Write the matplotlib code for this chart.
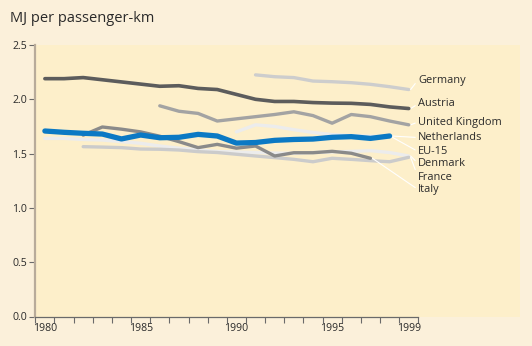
import numpy as np
import matplotlib
matplotlib.use("Agg")
import matplotlib.pyplot as plt
from matplotlib.ticker import FixedLocator, NullFormatter

plt.rcParams['font.family'] = ['Open Sans', 'DejaVu Sans']

years = list(range(1980, 2000))

austria = [2.19, 2.19, 2.20, 2.18, 2.16, 2.14, 2.12, 2.125, 2.10, 2.09,
           2.045, 2.00, 1.98, 1.98, 1.97, 1.965, 1.963, 1.953, 1.93, 1.915]
germany_years = list(range(1991, 2000))
germany = [2.225, 2.208, 2.20, 2.168, 2.162, 2.153, 2.138, 2.116, 2.09]
uk_years = list(range(1986, 2000))
uk = [1.94, 1.89, 1.87, 1.80, 1.82, 1.84, 1.86, 1.885, 1.85, 1.78,
      1.86, 1.84, 1.80, 1.765]
netherlands_years = list(range(1980, 1999))
netherlands = [1.708, 1.696, 1.687, 1.68, 1.635, 1.671, 1.646, 1.65, 1.677, 1.662,
               1.597, 1.602, 1.622, 1.63, 1.634, 1.65, 1.656, 1.64, 1.662]
eu15_years = list(range(1990, 1999))
eu15 = [1.70, 1.765, 1.75, 1.72, 1.695, 1.675, 1.665, 1.66, 1.655]
denmark = [1.64, 1.64, 1.63, 1.625, 1.61, 1.595, 1.57, 1.55, 1.535, 1.52,
           1.515, 1.51, 1.505, 1.503, 1.51, 1.515, 1.52, 1.527, 1.51, 1.478]
france_years = list(range(1982, 2000))
france = [1.564, 1.56, 1.555, 1.542, 1.54, 1.533, 1.518, 1.51, 1.494, 1.478,
          1.463, 1.447, 1.425, 1.457, 1.447, 1.435, 1.425, 1.466]
italy_years = list(range(1982, 1998))
italy = [1.67, 1.745, 1.725, 1.70, 1.66, 1.61, 1.555, 1.585, 1.55, 1.57,
         1.478, 1.508, 1.508, 1.521, 1.503, 1.457]

W, H = 532, 346
fig = plt.figure(figsize=(W / 100, H / 100), dpi=100, facecolor='#fbf0da')

# plot panel in pixel geometry
px_left, px_right, px_top, px_bottom = 35.3, 520, 45, 316.5
ax = fig.add_axes([px_left / W, (H - px_bottom) / H,
                   (px_right - px_left) / W, (px_bottom - px_top) / H])
ax.set_facecolor('#fdefca')
year_w = 19.15
ax.set_xlim(1979.5, 1979.5 + (px_right - px_left) / year_w)
ax.set_ylim(0, 2.5)

series = [
    (years, austria, '#5c5c5c', 2.6, 5),
    (germany_years, germany, '#cdcdcd', 2.4, 3),
    (uk_years, uk, '#a3a3a3', 2.4, 4),
    (years, denmark, '#ececec', 2.4, 2),
    (france_years, france, '#cbcbcb', 2.4, 3),
    (eu15_years, eu15, '#ececec', 2.4, 3),
    (italy_years, italy, '#8a8a8a', 2.4, 4),
    (netherlands_years, netherlands, '#0b79c4', 3.8, 6),
]
for xs, ys, c, lw, z in series:
    ax.plot(xs, ys, color=c, lw=lw, zorder=z, solid_capstyle='round',
            solid_joinstyle='round')

for s in ('top', 'right'):
    ax.spines[s].set_visible(False)
ax.spines['left'].set_color('#b8ab9a')
ax.spines['left'].set_linewidth(1.6)
ax.spines['bottom'].set_color('#6a6a6a')
ax.spines['bottom'].set_linewidth(0.9)
ax.spines['bottom'].set_bounds(1979.5, 1999.5)

ax.set_yticks([0, 0.5, 1.0, 1.5, 2.0, 2.5])
ax.set_yticklabels(['0.0', '0.5', '1.0', '1.5', '2.0', '2.5'])
ax.tick_params(axis='y', length=4, width=0.8, color='#6a6a6a', pad=2,
               labelsize=7.6, labelcolor='#2a2a2a')

# year boundaries carry the tick marks, labels sit between them
ax.xaxis.set_major_locator(FixedLocator(np.arange(1979.5, 2000, 1.0)))
ax.xaxis.set_major_formatter(NullFormatter())
label_years = [1980, 1985, 1990, 1995, 1999]
ax.xaxis.set_minor_locator(FixedLocator(label_years))
ax.set_xticklabels([str(y) for y in label_years], minor=True)
ax.tick_params(axis='x', which='major', length=4, width=0.8, color='#6a6a6a')
ax.tick_params(axis='x', which='minor', length=0, pad=5, labelsize=7.6,
               labelcolor='#2a2a2a')

fig.text(10 / W, 1 - 18 / H, 'MJ per passenger-km', fontsize=10.5,
         color='#2a2a2a', va='center', ha='left')

# series labels with white leader lines
labels = [
    ('Germany', germany_years[-1], germany[-1], 80),
    ('Austria', years[-1], austria[-1], 104),
    ('United Kingdom', uk_years[-1], uk[-1], 122),
    ('Netherlands', netherlands_years[-1], netherlands[-1], 137.5),
    ('EU-15', eu15_years[-1], eu15[-1], 151.5),
    ('Denmark', years[-1], denmark[-1], 163.5),
    ('France', france_years[-1], france[-1], 177),
    ('Italy', italy_years[-1], italy[-1], 189.5),
]
for name, x, y, ypx in labels:
    ax.annotate(name, xy=(x + 0.1, y), xycoords='data',
                xytext=(418, H - ypx), textcoords='figure pixels',
                fontsize=7.9, color='#2a2a2a', va='center', ha='left',
                arrowprops=dict(arrowstyle='-', color='white', lw=0.8,
                                shrinkA=0, shrinkB=0,
                                relpos=(0, 0.5)),
                annotation_clip=False)

fig.savefig('out.png', dpi=100, facecolor=fig.get_facecolor())
